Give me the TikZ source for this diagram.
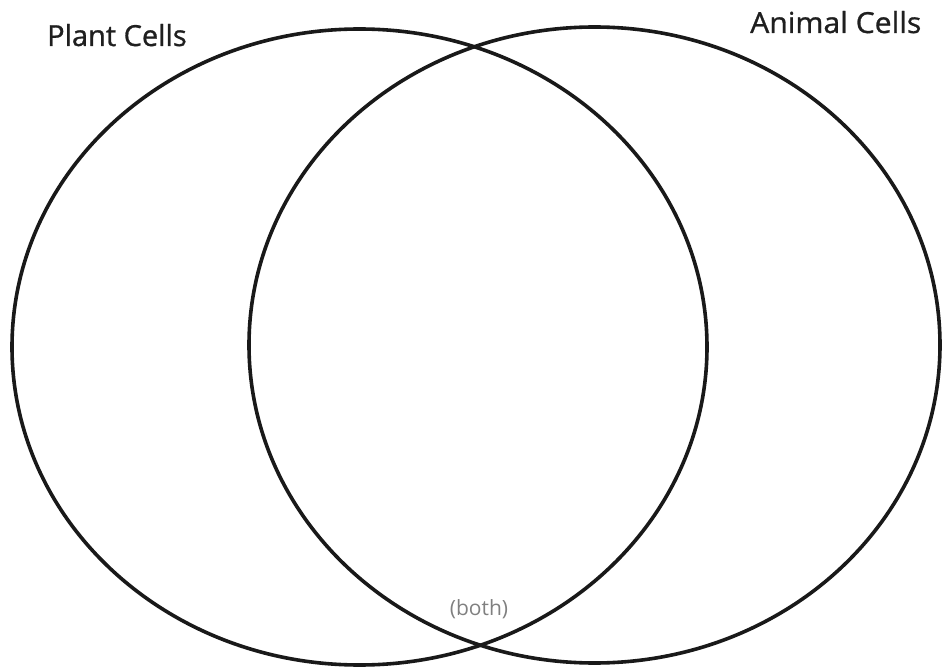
\documentclass[tikz,border=0pt]{standalone}
\usepackage{fontspec}
\setmainfont{Open Sans}
\newfontfamily\titlefont{Open Sans}[FakeBold=0.9]
\begin{document}
\begin{tikzpicture}[x=1pt,y=-1pt,
  circ/.style={draw=black!90, line width=3.6pt},
  title/.style={inner sep=0pt, font=\titlefont\fontsize{29}{32}\selectfont, text=black!88},
  note/.style={inner sep=0pt, font=\fontsize{21}{24}\selectfont, text=black!50}]
\useasboundingbox (0,0) rectangle (943,671);
\draw[circ] (359.5,347) ellipse [x radius=347.5, y radius=318];
\draw[circ] (594.5,345) ellipse [x radius=345.5, y radius=318];
\node[title, anchor=base west] (plant) at (47,46) {Plant Cells};
\node[title, anchor=base west, xscale=1.04] (animal) at (750,33) {Animal Cells};
\node[note] (both) at (479,609) {(both)};
\end{tikzpicture}
\end{document}
